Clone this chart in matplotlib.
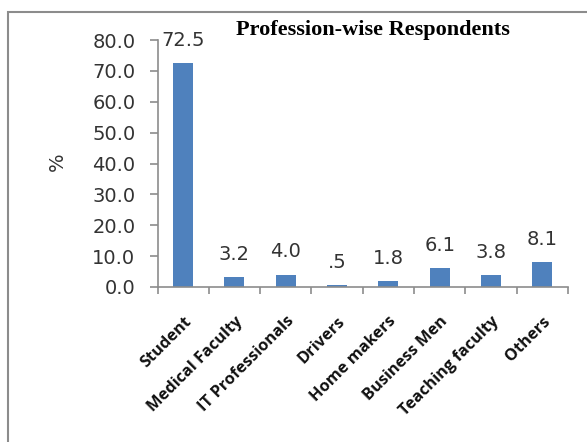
import matplotlib.pyplot as plt
from matplotlib.patches import Rectangle

# Share of respondents by profession (%)
professions = ['Student', 'Medical Faculty', 'IT Professionals', 'Drivers',
               'Home makers', 'Business Men', 'Teaching faculty', 'Others']
percent = [72.5, 3.2, 4.0, 0.5, 1.8, 6.1, 3.8, 8.1]
y_ticks = [0, 10, 20, 30, 40, 50, 60, 70, 80]

bar_color = '#4F81BD'
axis_color = '#8c8c8c'
text_color = '#333333'


def value_label(v):
    # Excel-style number format "#.0" drops the leading zero
    s = f'{v:.1f}'
    return s[1:] if s.startswith('0') else s


def draw_chart():
    fig = plt.figure(figsize=(5.87, 4.42), dpi=100)
    fig.patch.set_facecolor('white')

    # outer chart frame
    fig.patches.append(Rectangle((8 / 587, -0.05), 1.2, 1 - 12 / 442 + 0.05,
                                 transform=fig.transFigure, fill=False,
                                 edgecolor='#8c8c8c', linewidth=1.5))

    ax = fig.add_axes([157.5 / 587, 1 - 287 / 442, 410.5 / 587, 247 / 442])
    x = list(range(len(professions)))
    ax.bar(x, percent, width=0.39, color=bar_color, zorder=2)

    for xi, v in zip(x, percent):
        ax.annotate(value_label(v), (xi, v), xytext=(0, 9.5), textcoords='offset points',
                    ha='center', va='bottom', fontsize=14, color=text_color,
                    family='DejaVu Sans')

    ax.set_xlim(-0.5, len(professions) - 0.5)
    ax.set_ylim(0, 80)
    ax.set_yticks(y_ticks)
    ax.set_yticklabels([f'{t:.1f}' for t in y_ticks], fontsize=14, family='DejaVu Sans',
                       color=text_color)

    # category boundary ticks on the x axis
    ax.set_xticks([i - 0.5 for i in range(len(professions) + 1)], minor=False)
    ax.set_xticklabels([])
    ax.set_xticks(x, minor=True)
    ax.set_xticklabels(professions, minor=True, rotation=45, ha='right', va='top',
                       rotation_mode='anchor', fontsize=11.8, fontweight='bold',
                       family='Open Sans', color='#111111')
    ax.tick_params(axis='x', which='minor', length=0, pad=19)
    ax.tick_params(axis='x', which='major', length=5, width=1.2, color=axis_color,
                   direction='out')
    ax.tick_params(axis='y', length=6, width=1.2, color=axis_color, direction='out', pad=10)

    for side in ('top', 'right'):
        ax.spines[side].set_visible(False)
    for side in ('left', 'bottom'):
        ax.spines[side].set_color(axis_color)
        ax.spines[side].set_linewidth(1.2)

    fig.text(57 / 587, 1 - 162 / 442, '%', rotation=90, ha='center', va='center',
             fontsize=14, family='DejaVu Sans', color=text_color)

    fig.text(373 / 587, 1 - 30 / 442, 'Profession-wise Respondents', ha='center',
             va='center', fontsize=16, fontweight='bold', family='Liberation Serif')

    fig.savefig('out.png', dpi=100)


def main():
    draw_chart()


if __name__ == '__main__':
    main()
